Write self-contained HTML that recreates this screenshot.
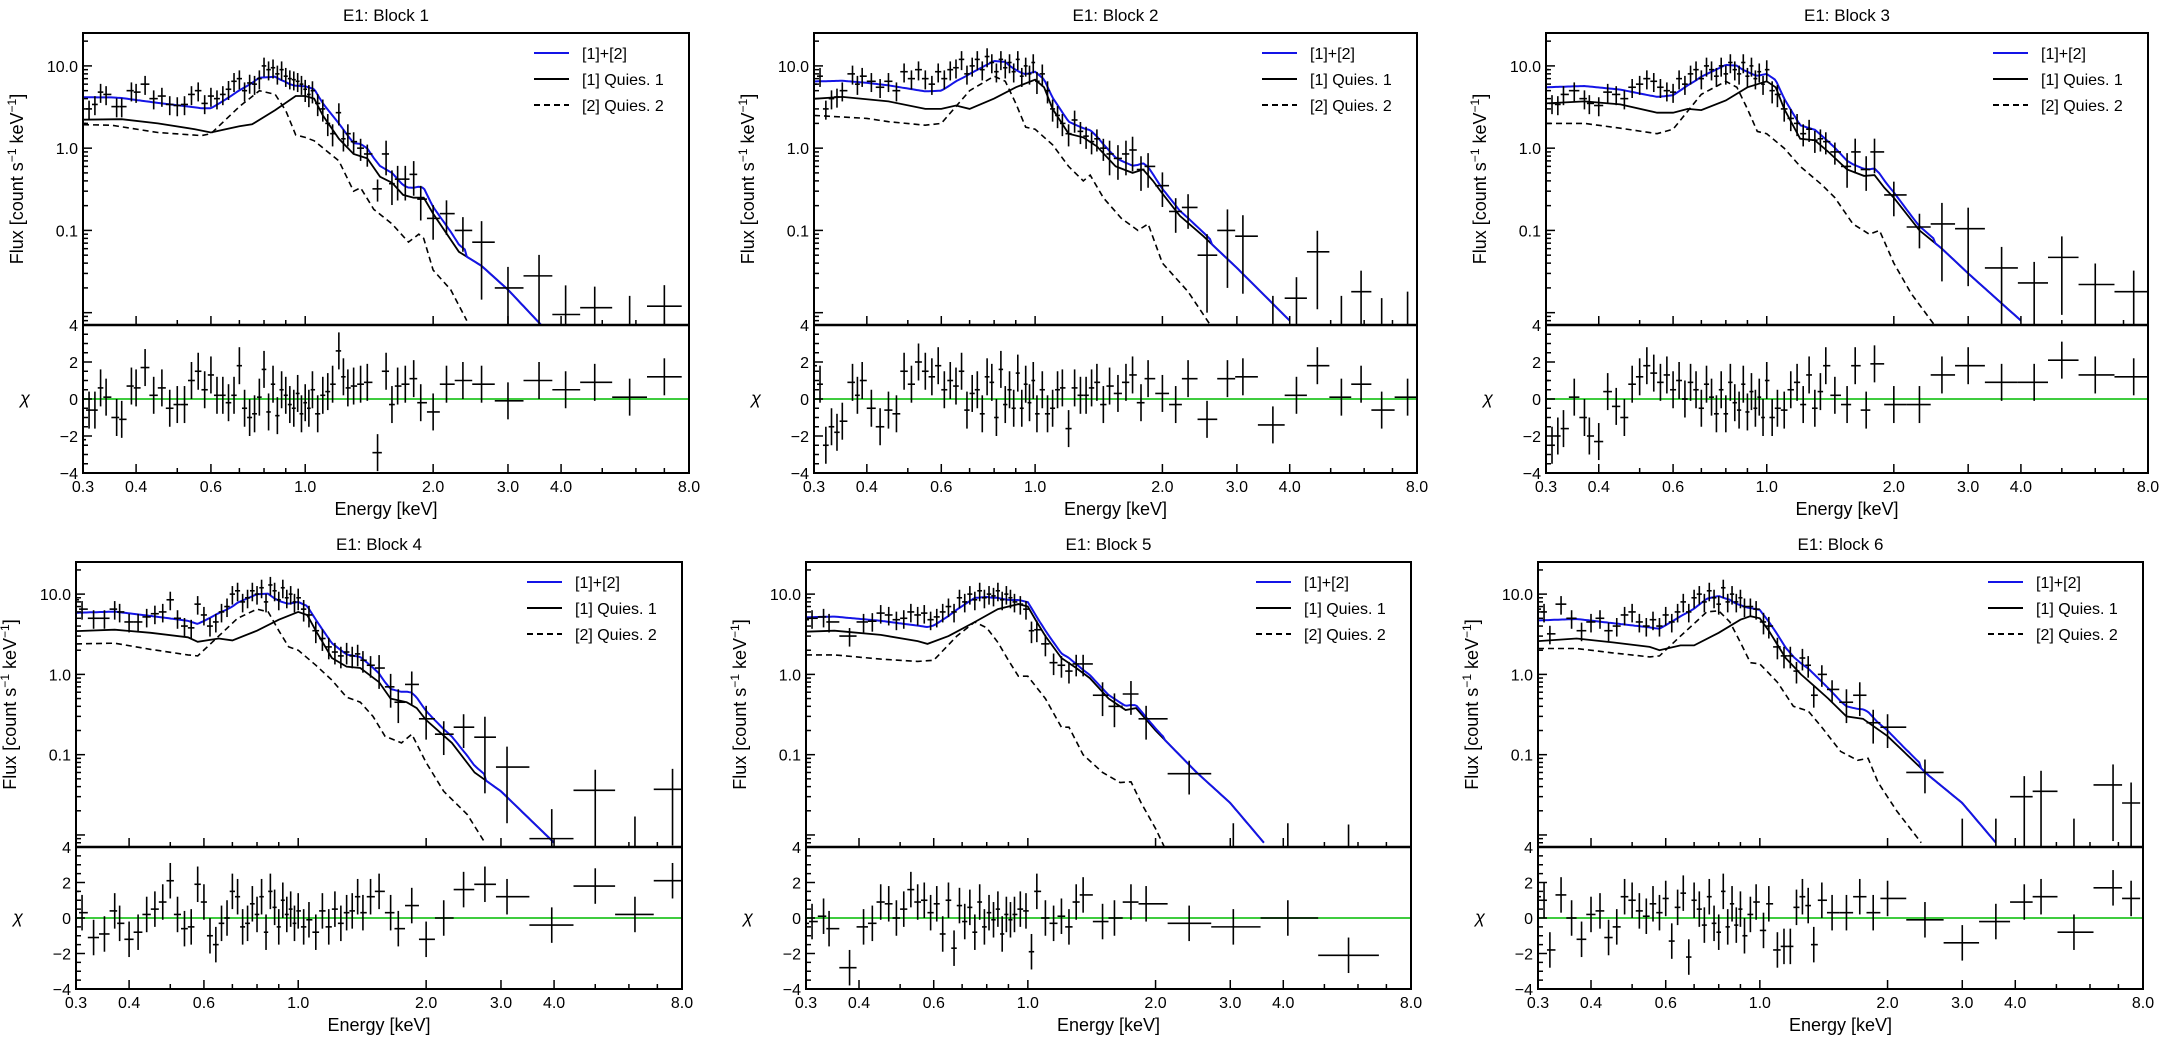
<!DOCTYPE html>
<html><head><meta charset="utf-8"><style>
html,body{margin:0;padding:0;background:#fff;}
svg{display:block;font-family:"Liberation Sans",Arial,sans-serif;}
</style></head><body>
<svg id="fig" width="2170" height="1060" viewBox="0 0 2170 1060" xmlns="http://www.w3.org/2000/svg"></svg>
<script>
// ---------- DATA ----------
const titles = ["E1: Block 1","E1: Block 2","E1: Block 3","E1: Block 4","E1: Block 5","E1: Block 6"];
const xTickLabels = ["0.3","0.4","0.6","1.0","2.0","3.0","4.0","8.0"];
const xTickValues = [0.3,0.4,0.6,1.0,2.0,3.0,4.0,8.0];
const xMinorValues = [0.5,0.7,0.8,0.9,5,6,7];
const yTickLabels = ["10.0","1.0","0.1"];
const yTickValues = [10,1,0.1];
const chiTickValues = [4,2,0,-2,-4];

const b1Q1E=[0.3,0.37,0.45,0.55,0.6,0.7,0.75,0.85,0.95,1.0,1.05,1.1,1.2,1.3,1.4,1.5,1.6,1.7,1.8,1.9,2.0,2.3,2.6,3.0,3.6];
const b1Q1F=[2.22,2.25,2.0,1.7,1.55,1.85,1.95,2.9,4.3,4.3,4.0,2.5,1.3,0.85,0.75,0.45,0.38,0.27,0.25,0.25,0.16,0.055,0.037,0.019,0.007];
const b1Q2E=[0.3,0.35,0.45,0.57,0.6,0.7,0.78,0.85,0.9,0.95,1.0,1.05,1.2,1.3,1.35,1.45,1.6,1.75,1.85,1.9,2.0,2.2,2.4];
const b1Q2F=[1.93,1.9,1.55,1.42,1.5,3.2,5.0,4.5,2.85,1.45,1.35,1.23,0.7,0.3,0.33,0.18,0.12,0.072,0.09,0.08,0.033,0.019,0.008];
const b1E=[0.30,0.31,0.32,0.33,0.34,0.36,0.37,0.39,0.40,0.42,0.44,0.46,0.48,0.50,0.52,0.54,0.56,0.58,0.60,0.62,0.64,0.66,0.68,0.70,0.72,0.74,0.76,0.78,0.80,0.82,0.84,0.86,0.88,0.90,0.92,0.94,0.96,0.98,1.00,1.02,1.04,1.07,1.10,1.13,1.16,1.20,1.23,1.26,1.30,1.35,1.40,1.48,1.55,1.60,1.65,1.72,1.80,1.87,2.00,2.15,2.35,2.60,3.00,3.55,4.10,4.80,5.80,7.00];
const b1F=[2.0,3.0,3.4,4.8,4.5,3.2,3.2,5.0,4.8,6.0,4.0,4.3,3.4,3.3,3.4,4.5,5.0,3.5,4.3,4.0,4.5,5.2,6.5,7.0,5.0,6.2,6.0,7.0,10.0,9.0,9.5,8.0,9.0,7.5,7.0,6.8,6.5,6.0,5.2,4.5,5.0,3.5,3.0,2.0,1.5,2.7,1.3,1.5,1.2,1.0,0.85,0.32,0.85,0.37,0.42,0.42,0.48,0.24,0.14,0.16,0.10,0.072,0.020,0.028,0.0095,0.0115,0.004,0.012];
const b1Chi=[-2.2,-0.6,-0.6,0.6,0.1,-1.0,-1.1,0.7,0.6,1.7,0.2,0.6,-0.5,-0.3,-0.3,1.0,1.5,0.5,1.3,0.2,0.2,-0.2,0.2,1.8,-0.5,-1.0,-0.8,0.1,1.6,-0.7,0.8,-0.9,0.5,0.2,-0.3,-0.5,0.3,-0.8,-0.2,-0.5,0.5,-0.8,0.2,0.4,0.8,2.6,1.2,0.6,0.7,0.8,0.9,-2.9,1.5,-0.3,0.7,0.8,1.1,-0.2,-0.7,0.8,1.0,0.8,-0.1,1.0,0.5,0.9,0.1,1.2];

const b2Q1E=[0.3,0.35,0.45,0.55,0.6,0.65,0.7,0.8,0.9,1.0,1.05,1.1,1.2,1.3,1.4,1.55,1.7,1.8,1.9,2.0,2.2,2.5,3.0,4.0];
const b2Q1F=[3.98,4.2,3.7,3.0,3.0,3.3,3.0,4.0,5.5,6.8,5.5,3.0,1.5,1.35,1.05,0.6,0.5,0.55,0.4,0.28,0.15,0.085,0.035,0.008];
const b2Q2E=[0.3,0.4,0.45,0.55,0.6,0.7,0.8,0.85,0.9,0.95,1.0,1.1,1.2,1.3,1.35,1.45,1.6,1.75,1.85,2.0,2.3,2.6];
const b2Q2F=[2.5,2.3,2.1,1.9,2.0,5.0,7.5,6.5,3.5,1.8,1.7,1.1,0.6,0.4,0.47,0.25,0.14,0.1,0.12,0.04,0.018,0.007];
const b2E=[0.30,0.31,0.32,0.33,0.34,0.35,0.37,0.38,0.39,0.41,0.43,0.45,0.47,0.49,0.51,0.53,0.55,0.57,0.59,0.61,0.63,0.65,0.67,0.69,0.71,0.73,0.75,0.77,0.79,0.81,0.83,0.85,0.87,0.89,0.91,0.93,0.95,0.97,0.99,1.01,1.04,1.07,1.10,1.13,1.16,1.20,1.24,1.28,1.32,1.36,1.40,1.45,1.50,1.57,1.64,1.70,1.78,1.85,2.00,2.15,2.30,2.55,2.85,3.10,3.65,4.15,4.65,5.30,5.90,6.60,7.60];
const b2F=[6,7.5,3,4,4.2,5,8,6,7.5,6.5,5.5,6.5,5.0,8.5,7,9,7,6,8.5,7,9,9.5,12,8,10,12,9,13,11,8.5,12,9.5,11,8.5,12,7.5,10,8,11,6.5,8,5,3,2.5,2.0,1.5,2.2,1.6,1.4,1.2,1.3,1.0,0.85,0.75,0.85,0.95,0.55,0.6,0.35,0.17,0.19,0.05,0.1,0.085,0.004,0.015,0.055,0.004,0.018,0.003,0.006];
const b2Chi=[1.8,0.8,-2.5,-1.5,-1.8,-1.2,0.9,0.2,1.0,-0.5,-1.5,-0.6,-0.8,1.5,0.8,2.0,1.5,1.2,1.8,0.5,1.0,0.7,1.5,-0.6,0.3,0.5,-0.8,1.2,0.9,-1.0,1.6,-0.3,0.5,-0.5,1.4,-0.5,0.8,-0.2,1.0,-0.8,0.5,-0.8,-0.5,0.5,0.6,-1.6,0.6,0.2,0.2,0.6,0.9,-0.3,0.7,0.3,0.9,1.3,-0.2,1.1,0.3,-0.3,1.1,-1.1,1.1,1.2,-1.4,0.2,1.8,0.1,0.8,-0.6,0.1];

const b3Q1E=[0.3,0.37,0.45,0.55,0.6,0.65,0.7,0.8,0.9,1.0,1.05,1.1,1.2,1.3,1.4,1.55,1.7,1.8,1.9,2.0,2.3,2.6,3.0,4.0];
const b3Q1F=[3.5,3.7,3.4,2.7,2.7,3.0,2.9,3.8,5.5,6.5,5.5,3.0,1.3,1.25,0.9,0.55,0.46,0.47,0.33,0.25,0.1,0.06,0.03,0.008];
const b3Q2E=[0.3,0.37,0.45,0.55,0.6,0.7,0.8,0.85,0.9,0.95,1.0,1.1,1.2,1.35,1.45,1.6,1.75,1.85,2.0,2.2,2.5];
const b3Q2F=[2.0,2.0,1.75,1.5,1.7,4.5,6.5,5.5,3.0,1.6,1.5,1.0,0.6,0.36,0.25,0.12,0.09,0.1,0.04,0.017,0.007];
const b3E=[0.30,0.31,0.32,0.33,0.35,0.37,0.38,0.40,0.42,0.44,0.46,0.48,0.50,0.52,0.54,0.56,0.58,0.60,0.62,0.64,0.66,0.68,0.70,0.72,0.74,0.76,0.78,0.80,0.82,0.84,0.86,0.88,0.90,0.92,0.94,0.96,0.98,1.00,1.03,1.06,1.10,1.14,1.18,1.22,1.26,1.30,1.34,1.38,1.45,1.55,1.62,1.72,1.80,2.00,2.30,2.60,3.00,3.60,4.30,5.00,6.00,7.40];
const b3F=[9,3.5,3.4,4.5,5.0,4,3.5,3.3,4.8,4.5,4.0,5.5,6,7,6.5,5.5,5,4.8,7,6,8,9,7,10,9,7.5,10,8,11,9,8,11,7.5,10,7,8.5,6,9,5,4.5,3,2.3,2.0,1.5,1.7,1.25,1.3,1.2,0.9,0.6,0.9,0.55,0.9,0.27,0.11,0.12,0.105,0.035,0.023,0.047,0.022,0.018];
const b3Chi=[1.0,-2.5,-2.0,-1.6,0.1,-1.0,-2.0,-2.3,0.4,-0.4,-1.0,0.8,1.2,1.8,1.4,0.9,1.3,0.5,1.0,0.0,0.9,0.5,-0.5,0.8,0.1,-0.8,0.5,-0.8,0.9,-0.2,-0.6,0.8,-0.7,0.4,-0.5,0.1,-1.0,1.0,-1.0,-0.5,-0.6,0.5,0.9,-0.3,1.3,-0.5,0.4,1.8,0.2,-0.3,1.8,-0.6,1.9,-0.3,-0.3,1.3,1.8,0.9,0.9,2.1,1.3,1.2];

const b4Q1E=[0.3,0.37,0.45,0.55,0.58,0.65,0.7,0.8,0.9,1.0,1.05,1.1,1.2,1.3,1.4,1.55,1.65,1.8,1.9,2.0,2.3,2.6,3.0,4.0];
const b4Q1F=[3.46,3.6,3.3,2.9,2.55,2.8,2.65,3.5,4.8,6.0,5.5,3.5,1.6,1.25,1.2,0.8,0.5,0.45,0.38,0.27,0.14,0.06,0.035,0.008];
const b4Q2E=[0.3,0.37,0.45,0.55,0.58,0.65,0.72,0.8,0.85,0.9,0.95,1.0,1.1,1.2,1.3,1.4,1.5,1.6,1.75,1.85,2.0,2.2,2.5,2.75];
const b4Q2F=[2.4,2.45,2.05,1.75,1.7,3.0,5.0,6.5,6.0,3.5,2.2,2.0,1.3,0.85,0.52,0.45,0.3,0.17,0.14,0.18,0.08,0.035,0.018,0.008];
const b4E=[0.30,0.31,0.33,0.35,0.37,0.38,0.40,0.42,0.44,0.46,0.48,0.50,0.52,0.54,0.56,0.58,0.60,0.62,0.64,0.66,0.68,0.70,0.72,0.74,0.76,0.78,0.80,0.82,0.84,0.86,0.88,0.90,0.92,0.94,0.96,0.98,1.00,1.03,1.06,1.10,1.14,1.18,1.22,1.26,1.30,1.34,1.38,1.42,1.48,1.55,1.65,1.72,1.85,2.00,2.20,2.45,2.75,3.10,3.95,5.00,6.20,7.60];
const b4F=[8.5,6.5,5,5.0,6.5,6,4.5,4.5,5.2,5.7,6,8.5,5,4.0,3.8,7.5,5.5,4.0,4.5,6,7,10,11,8,9,11,10,12,8,13,11,8.5,12,9,10,8,9,6.5,5.5,3.5,2.8,2.2,1.9,1.7,1.9,1.7,1.8,1.5,1.3,1.2,0.7,0.45,0.75,0.28,0.18,0.22,0.165,0.07,0.009,0.036,0.005,0.037];
const b4Chi=[1.5,0.3,-1.1,-0.9,0.4,-0.3,-1.2,-0.8,0.2,0.5,0.9,2.1,0.2,-0.6,-0.5,1.9,0.9,-1.0,-1.5,-0.3,0.0,1.5,1.2,-0.5,-0.3,0.8,0.2,1.2,-0.8,1.5,0.6,-0.5,1.0,0.2,0.5,-0.3,0.4,-0.5,-0.1,-0.8,0.4,-0.5,0.5,-0.3,0.3,0.4,1.2,0.3,1.2,1.5,0.3,-0.6,0.7,-1.2,0.0,1.6,1.9,1.2,-0.4,1.8,0.2,2.1];

const b5Q1E=[0.3,0.35,0.45,0.55,0.58,0.65,0.75,0.85,0.95,1.0,1.05,1.1,1.2,1.3,1.4,1.55,1.7,1.8,2.0,2.5,3.0,3.6];
const b5Q1F=[3.4,3.5,3.1,2.6,2.4,3.0,4.5,6.5,7.5,7.0,4.5,3.0,1.6,1.2,0.9,0.5,0.36,0.38,0.2,0.06,0.025,0.008];
const b5Q2E=[0.3,0.35,0.45,0.55,0.6,0.68,0.75,0.8,0.85,0.9,0.95,1.0,1.1,1.2,1.25,1.35,1.5,1.65,1.75,1.85,2.0,2.1];
const b5Q2F=[1.75,1.75,1.55,1.45,1.5,3.0,4.5,3.8,2.5,1.5,0.95,0.95,0.5,0.22,0.22,0.1,0.06,0.045,0.046,0.025,0.012,0.007];
const b5E=[0.30,0.31,0.33,0.34,0.38,0.41,0.43,0.45,0.47,0.49,0.51,0.53,0.55,0.57,0.59,0.61,0.63,0.65,0.67,0.69,0.71,0.73,0.75,0.77,0.79,0.81,0.83,0.85,0.87,0.89,0.91,0.93,0.96,0.99,1.02,1.05,1.10,1.15,1.20,1.25,1.30,1.35,1.50,1.60,1.75,1.90,2.40,3.05,4.10,5.70];
const b5F=[4.8,5.0,5.2,4.5,3.0,4.5,4.6,5.8,5.5,4.8,5.0,6,5.5,5.8,4.8,5.2,6,7,6,9,8,10,8.5,11,9,10,9.5,11,8.5,10,9,8,7.5,6.5,3.5,3.6,2.4,1.4,1.3,1.1,1.35,1.35,0.55,0.4,0.57,0.28,0.058,0.002,0.002,0.0015];
const b5Chi=[-0.3,-0.2,0.1,-0.6,-2.8,-0.5,-0.3,0.9,0.8,0.0,0.5,1.6,0.9,1.0,0.3,0.8,-0.9,1.0,-1.7,0.7,-0.2,0.6,-0.8,0.9,-0.5,0.3,-0.1,0.5,-0.9,0.2,-0.1,0.2,0.5,0.4,-1.9,1.5,0.0,-0.3,0.1,-0.5,0.9,1.3,-0.2,0.0,0.9,0.8,-0.3,-0.5,0.0,-2.1];

const b6Q1E=[0.3,0.37,0.45,0.55,0.58,0.65,0.7,0.8,0.9,0.95,1.0,1.05,1.15,1.25,1.35,1.45,1.6,1.75,2.0,2.5,3.0,3.6];
const b6Q1F=[2.6,2.8,2.5,2.2,2.0,2.3,2.3,3.3,4.8,5.3,5.0,3.5,1.6,1.0,0.7,0.5,0.3,0.28,0.17,0.055,0.025,0.008];
const b6Q2E=[0.3,0.37,0.45,0.55,0.58,0.65,0.75,0.8,0.85,0.9,0.95,1.0,1.1,1.2,1.3,1.4,1.55,1.7,1.8,1.9,2.1,2.4];
const b6Q2F=[2.1,2.1,1.85,1.65,1.7,3.0,6.0,6.2,4.5,2.5,1.4,1.35,0.8,0.4,0.35,0.22,0.11,0.085,0.09,0.045,0.02,0.008];
const b6E=[0.30,0.31,0.32,0.34,0.36,0.38,0.40,0.42,0.44,0.46,0.48,0.50,0.52,0.54,0.56,0.58,0.60,0.62,0.64,0.66,0.68,0.70,0.72,0.74,0.76,0.78,0.80,0.82,0.84,0.86,0.88,0.90,0.92,0.95,0.98,1.02,1.05,1.10,1.14,1.18,1.22,1.26,1.30,1.34,1.40,1.48,1.60,1.72,1.85,2.00,2.45,3.00,3.60,4.20,4.60,5.50,6.80,7.50];
const b6F=[6.5,6.0,3.2,7.5,5,3.5,4.5,5,3.5,4.0,5.5,6,4.5,4.0,4.8,4.0,5.5,4.5,6,8,6,9,10,8,11,9,7.5,12,8,10,8,9,7,7,6.5,4.5,4,2.2,1.7,1.7,1.1,1.6,1.3,0.55,1.0,0.65,0.45,0.55,0.25,0.22,0.06,0.004,0.004,0.03,0.035,0.004,0.042,0.025];
const b6Chi=[1.2,1.0,-1.8,1.3,0.0,-1.2,0.2,0.4,-1.1,-0.5,1.2,1.0,0.4,0.1,0.8,0.3,1.1,-1.3,0.6,1.4,-2.2,1.0,0.5,-0.4,1.2,-0.3,-0.8,1.5,-0.5,0.8,-0.4,0.5,-1.0,0.2,0.9,-0.7,0.8,-1.8,-1.6,-1.6,0.6,1.2,0.7,-1.5,1.0,0.3,0.3,1.2,0.3,1.1,-0.1,-1.4,-0.2,0.9,1.2,-0.8,1.7,1.1];

const blockQ1E=[b1Q1E,b2Q1E,b3Q1E,b4Q1E,b5Q1E,b6Q1E];
const blockQ1F=[b1Q1F,b2Q1F,b3Q1F,b4Q1F,b5Q1F,b6Q1F];
const blockQ2E=[b1Q2E,b2Q2E,b3Q2E,b4Q2E,b5Q2E,b6Q2E];
const blockQ2F=[b1Q2F,b2Q2F,b3Q2F,b4Q2F,b5Q2F,b6Q2F];
const blockE=[b1E,b2E,b3E,b4E,b5E,b6E];
const blockF=[b1F,b2F,b3F,b4F,b5F,b6F];
const blockChi=[b1Chi,b2Chi,b3Chi,b4Chi,b5Chi,b6Chi];

// ---------- LAYOUT ----------
const geom=[
 {L:83,R:689,T:33,M:325,B:473},{L:814,R:1417,T:33,M:325,B:473},{L:1546,R:2148,T:33,M:325,B:473},
 {L:76,R:682,T:562,M:847,B:989},{L:806,R:1411,T:562,M:847,B:989},{L:1538,R:2143,T:562,M:847,B:989}];
const EMIN=0.3,EMAX=8.0,LTOP=1.4,LBOT=-2.15;
const NS='http://www.w3.org/2000/svg';
const svg=document.getElementById('fig');
function mk(tag,attrs,parent){const el=document.createElementNS(NS,tag);for(const k in attrs)el.setAttribute(k,attrs[k]);(parent||svg).appendChild(el);return el;}
function interp(xs,ys,x){const lx=Math.log(x);
 if(x<=xs[0])return ys[0]; if(x>xs[xs.length-1])return 0;
 for(let i=0;i<xs.length-1;i++){if(x<=xs[i+1]){const t=(lx-Math.log(xs[i]))/(Math.log(xs[i+1])-Math.log(xs[i]));return Math.exp(Math.log(ys[i])+t*(Math.log(ys[i+1])-Math.log(ys[i])));}}
 return ys[ys.length-1];}

for(let p=0;p<6;p++){
 const g=geom[p];const{L,R,T,M,B}=g;
 const xs=e=>L+Math.log(e/EMIN)/Math.log(EMAX/EMIN)*(R-L);
 const yf=f=>T+(LTOP-Math.log10(f))/(LTOP-LBOT)*(M-T);
 const yc=c=>M+(4-c)/8*(B-M);
 const grp=mk('g',{});
 
 
 const cid='clipU'+p, cid2='clipL'+p;
 const defs=mk('defs',{},grp);
 const c1=mk('clipPath',{id:cid},defs);mk('rect',{x:L,y:T,width:R-L,height:M-T},c1);
 const c2=mk('clipPath',{id:cid2},defs);mk('rect',{x:L,y:M,width:R-L,height:B-M},c2);
 const tt=mk('text',{x:(L+R)/2,y:T-12,'text-anchor':'middle','font-size':17},grp);tt.textContent=titles[p];
 
 
 const mg=mk('g',{'clip-path':'url(#'+cid+')',fill:'none'},grp);
 const q1E=blockQ1E[p],q1F=blockQ1F[p],q2E=blockQ2E[p],q2F=blockQ2F[p];
 const eEnd=q1E[q1E.length-1];
 const grid=[];for(let i=0;i<=300;i++){const e=EMIN*Math.pow(EMAX/EMIN,i/300);if(e<=eEnd)grid.push(e);}
 grid.push(eEnd);
 const path=(es,fn)=>es.map((e,i)=>(i?'L':'M')+xs(e).toFixed(1)+','+yf(fn(e)).toFixed(1)).join('');
 const q2=mk('path',{d:path(q2E,e=>interp(q2E,q2F,e)),stroke:'#000','stroke-width':1.6,'stroke-dasharray':'6,4'},mg);
 
 
 const q1=mk('path',{d:path(q1E,e=>interp(q1E,q1F,e)),stroke:'#000','stroke-width':1.8},mg);
 
 
 const tot=mk('path',{d:path(grid,e=>interp(q1E,q1F,e)+interp(q2E,q2F,e)),stroke:'#1414e6','stroke-width':2},mg);
 
 
 const E=blockE[p],F=blockF[p],C=blockChi[p];const n=Math.min(E.length,F.length,C.length);
 const dg=mk('g',{'clip-path':'url(#'+cid+')',stroke:'#000','stroke-width':1.6},grp);
 const rg=mk('g',{'clip-path':'url(#'+cid2+')',stroke:'#000','stroke-width':1.6},grp);
 mk('line',{x1:L,x2:R,y1:yc(0),y2:yc(0),stroke:'#3fcc3f','stroke-width':2},rg);
 for(let i=0;i<n;i++){
  const lx=Math.log(E[i]);
  const lp=i>0?Math.log(E[i-1]):lx-(Math.log(E[i+1])-lx);
  const ln=i<n-1?Math.log(E[i+1]):lx+(lx-lp);
  const e0=Math.exp((lx+lp)/2),e1=Math.exp((lx+ln)/2);
  const re=E[i]<1?0.26:E[i]<1.5?0.3:E[i]<2.5?0.45:0.8;
  let hi=F[i]*(1+re),lo=F[i]*(1-re);
  if(F[i]<0.01){hi=F[i]+0.012;lo=1e-4;}
  const x=xs(E[i]);
  const pt=mk('g',{},dg);
  
  
  mk('line',{x1:xs(e0),x2:xs(e1),y1:yf(F[i]),y2:yf(F[i])},pt);
  mk('line',{x1:x,x2:x,y1:yf(hi),y2:yf(Math.max(lo,1e-4))},pt);
  const rp=mk('g',{},rg);
  
  
  mk('line',{x1:xs(e0),x2:xs(e1),y1:yc(C[i]),y2:yc(C[i])},rp);
  mk('line',{x1:x,x2:x,y1:yc(C[i]+1),y2:yc(C[i]-1)},rp);
 }
 const fr=mk('g',{fill:'none',stroke:'#000','stroke-width':2},grp);
 mk('rect',{x:L,y:T,width:R-L,height:B-T},fr);
 mk('line',{x1:L,x2:R,y1:M,y2:M,'stroke-width':2.5},fr);
 const tk=mk('g',{stroke:'#000','stroke-width':1.5},grp);
 xTickValues.forEach(v=>{const x=xs(v);[M,B].forEach(y=>mk('line',{x1:x,x2:x,y1:y,y2:y-9},tk));});
 xMinorValues.forEach(v=>{const x=xs(v);[M,B].forEach(y=>mk('line',{x1:x,x2:x,y1:y,y2:y-5},tk));});
 xTickLabels.forEach((lab,i)=>{const t=mk('text',{x:xs(xTickValues[i]),y:B+19,'text-anchor':'middle','font-size':16},grp);t.textContent=lab;
  
  });
 for(let d=-3;d<=1;d++)for(let m=1;m<=9;m++){const v=m*Math.pow(10,d);const y=yf(v);if(y<T||y>M)continue;mk('line',{x1:L,x2:L+(m===1?9:5),y1:y,y2:y},tk);}
 yTickLabels.forEach((lab,i)=>{const t=mk('text',{x:L-5,y:yf(yTickValues[i])+6,'text-anchor':'end','font-size':16},grp);t.textContent=lab;
  
  });
 for(let c=-4;c<=4;c+=0.5){const y=yc(c);mk('line',{x1:L,x2:L+(c%2===0?9:5),y1:y,y2:y},tk);}
 chiTickValues.forEach(c=>{const t=mk('text',{x:L-5,y:yc(c)+6,'text-anchor':'end','font-size':16},grp);t.textContent=(c<0?'\u2212':'')+Math.abs(c);
  
  });
 const yl=mk('text',{x:0,y:0,'text-anchor':'middle','font-size':18,transform:`translate(${L-60},${(T+M)/2}) rotate(-90)`},grp);
 yl.innerHTML='Flux [count s<tspan dy="-7" font-size="12">\u22121</tspan><tspan dy="7"> keV</tspan><tspan dy="-7" font-size="12">\u22121</tspan><tspan dy="7">]</tspan>';
 
 
 const cl=mk('text',{x:L-58,y:(M+B)/2+5,'text-anchor':'middle','font-size':18,'font-style':'italic'},grp);cl.textContent='\u03c7';
 
 
 const xl=mk('text',{x:(L+R)/2,y:B+42,'text-anchor':'middle','font-size':18},grp);xl.textContent='Energy [keV]';
 
 
 const lg=mk('g',{},grp);
 
 
 const items=[['[1]+[2]','#1414e6',null],['[1] Quies. 1','#000',null],['[2] Quies. 2','#000','6,4']];
 items.forEach((it,i)=>{const y=T+20+i*26;
  const ln=mk('line',{x1:R-155,x2:R-120,y1:y,y2:y,stroke:it[1],'stroke-width':2},lg);if(it[2])ln.setAttribute('stroke-dasharray',it[2]);
  const t=mk('text',{x:R-107,y:y+6,'font-size':16},lg);t.textContent=it[0];
  
  });
}
</script>
</body></html>
